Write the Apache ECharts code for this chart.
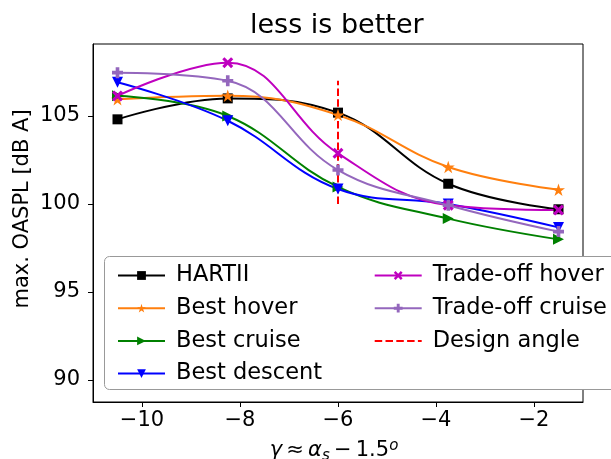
<!DOCTYPE html>
<html><head><meta charset="utf-8">
<script src="https://cdn.jsdelivr.net/npm/echarts@6/dist/echarts.min.js"></script>
<style>html,body{margin:0;padding:0;background:#fff}#c{width:611px;height:459px}</style>
</head><body><div id="c"></div>
<script>
const xValues = [-10.5, -8.25, -6, -3.75, -1.5];
const hartii = [104.81, 106.0, 105.19, 101.15, 99.7];
const bestHover = [105.95, 106.15, 105.06, 102.1, 100.81];
const bestCruise = [106.15, 105.0, 100.97, 99.17, 97.99];
const bestDescent = [106.92, 104.73, 100.85, 100.0, 98.67];
const tradeHover = [106.14, 108.03, 102.88, 99.93, 99.66];
const tradeCruise = [107.46, 107.0, 101.93, 99.93, 98.43];
const designAngleX = [-6, -6];
const designAngleY = [100, 107];
const xTicks = [-10, -8, -6, -4, -2];
const yTicks = [90, 95, 100, 105];

const FONT = 'DejaVu Sans';
const pairs = (xs, ys) => xs.map((x, i) => [x, ys[i]]);
const SYM = {
  star: 'path://M0,-1 L0.2245,-0.309 L0.951,-0.309 L0.363,0.118 L0.588,0.809 L0,0.382 L-0.588,0.809 L-0.363,0.118 L-0.951,-0.309 L-0.2245,-0.309 Z',
  right: 'path://M2,1 L0,0 L0,2 Z',
  down: 'path://M0,0 L2,0 L1,2 Z',
  X: 'path://M-1,-0.6 L-0.6,-1 L0,-0.4 L0.6,-1 L1,-0.6 L0.4,0 L1,0.6 L0.6,1 L0,0.4 L-0.6,1 L-1,0.6 L-0.4,0 Z',
  P: 'path://M-0.33,-1 L0.33,-1 L0.33,-0.33 L1,-0.33 L1,0.33 L0.33,0.33 L0.33,1 L-0.33,1 L-0.33,0.33 L-1,0.33 L-1,-0.33 L-0.33,-0.33 Z'
};
function lineSeries(name, ys, color, symbol, size) {
  return {
    name, type: 'line', data: pairs(xValues, ys), smooth: 0.4,
    symbol, symbolSize: size, symbolKeepAspect: true,
    lineStyle: { color, width: 2 }, itemStyle: { color },
    emphasis: { disabled: true }, animation: false
  };
}
const chart = echarts.init(document.getElementById('c'), null, { renderer: 'canvas' });
const legendText = { fontFamily: FONT, fontSize: 22.5, color: '#000', lineHeight: 22, padding: [0, 0, 0, 6] };
chart.setOption({
  animation: false,
  title: {
    text: 'less is better', left: 250, top: 12, padding: 0,
    textStyle: { fontFamily: FONT, fontSize: 27, fontWeight: 'normal', color: '#000' }
  },
  grid: { left: 93, top: 44, width: 490, height: 358, show: true, borderColor: '#000', borderWidth: 1, z: 0 },
  xAxis: {
    type: 'value', min: -11, max: -1,
    axisLine: { show: true, lineStyle: { color: '#000', width: 1 } },
    axisTick: { show: true, length: 5, customValues: xTicks, lineStyle: { color: '#000' } },
    axisLabel: { customValues: xTicks, margin: 8, fontFamily: FONT, fontSize: 21, color: '#000',
      formatter: v => String(v).replace('-', '\u2212') },
    splitLine: { show: false }
  },
  yAxis: {
    type: 'value', min: 88.75, max: 109.09,
    axisLine: { show: true, lineStyle: { color: '#000', width: 1 } },
    axisTick: { show: true, length: 5, customValues: yTicks, lineStyle: { color: '#000' } },
    axisLabel: { customValues: yTicks, margin: 13, fontFamily: FONT, fontSize: 21, color: '#000' },
    splitLine: { show: false }
  },
  legend: [
    { orient: 'vertical', left: 112, top: 259, itemWidth: 47, itemHeight: 11, itemGap: 9.7, selectedMode: false, z: 20,
      data: ['HARTII', 'Best hover', 'Best cruise', 'Best descent'], textStyle: legendText },
    { orient: 'vertical', left: 368.7, top: 259, itemWidth: 47, itemHeight: 11, itemGap: 9.7, selectedMode: false, z: 20,
      data: ['Trade-off hover', 'Trade-off cruise', { name: 'Design angle', itemStyle: { opacity: 0 } }], textStyle: legendText }
  ],
  graphic: [
    { type: 'rect', z: 15, shape: { x: 104.5, y: 256.5, width: 520, height: 133, r: 5 },
      style: { fill: '#fff', stroke: '#999', lineWidth: 1 } },
    { type: 'text', z: 20, x: 23, y: 209, rotation: Math.PI / 2,
      style: { text: 'max. OASPL [dB A]', fontFamily: FONT, fontSize: 21, fill: '#000', align: 'center', verticalAlign: 'middle' } },
    { type: 'text', z: 20, x: 334, y: 451,
      style: { text: '{i|\u03b3}\u2009\u2248\u2009{i|\u03b1}{sub|s}\u2009\u2212\u20091.5{sup|o}', fontFamily: FONT, fontSize: 21, fill: '#000',
        align: 'center', verticalAlign: 'middle',
        rich: {
          i: { fontFamily: FONT, fontSize: 21, fontStyle: 'italic', fill: '#000' },
          sub: { fontFamily: FONT, fontSize: 15, fontStyle: 'italic', fill: '#000', padding: [10, 0, 0, 0] },
          sup: { fontFamily: FONT, fontSize: 15, fontStyle: 'italic', fill: '#000', padding: [0, 0, 10, 0] }
        } } }
  ],
  series: [
    lineSeries('HARTII', hartii, '#000000', 'rect', 10),
    lineSeries('Best hover', bestHover, '#ff7f0e', SYM.star, 13),
    lineSeries('Best cruise', bestCruise, '#008000', SYM.right, 11),
    lineSeries('Best descent', bestDescent, '#0000ff', SYM.down, 11),
    lineSeries('Trade-off hover', tradeHover, '#bf00bf', SYM.X, 11),
    lineSeries('Trade-off cruise', tradeCruise, '#9467bd', SYM.P, 11),
    { name: 'Design angle', type: 'line', data: pairs(designAngleX, designAngleY), symbol: 'none',
      lineStyle: { color: '#ff0000', width: 2, type: [7.5, 3.3] }, itemStyle: { color: '#ff0000' },
      emphasis: { disabled: true }, animation: false }
  ]
});
</script></body></html>
